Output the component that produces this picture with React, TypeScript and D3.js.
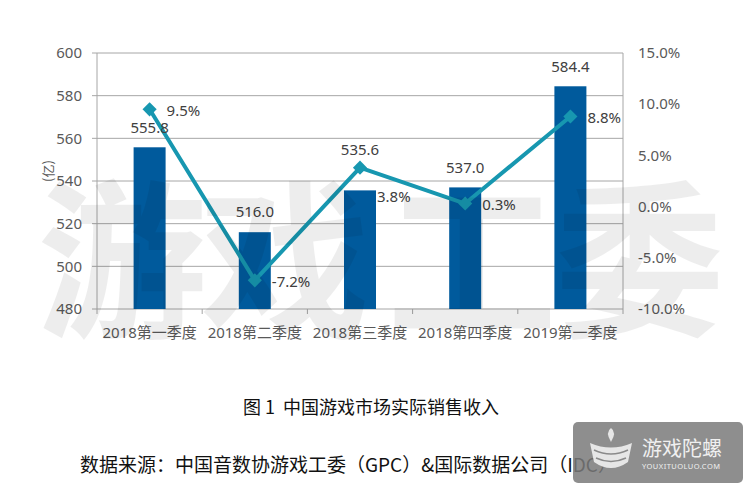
import React from "react";
import * as d3 from "d3";

const categories = ["2018第一季度", "2018第二季度", "2018第三季度", "2018第四季度", "2019第一季度"];
const revenue = [555.8, 516.0, 535.6, 537.0, 584.4];
const growth = [0.095, -0.072, 0.038, 0.003, 0.088];
const leftTicks = [480, 500, 520, 540, 560, 580, 600];
const rightTicks = [-0.1, -0.05, 0, 0.05, 0.1, 0.15];
const yLabel = "(亿)";
const caption = "图 1  中国游戏市场实际销售收入";
const source = "数据来源：中国音数协游戏工委（GPC）&国际数据公司（IDC）";
const watermark = ["游", "戏", "工", "委"];

const W = 753, H = 494;
const M = { left: 97, right: 623, top: 53, bottom: 309 };
const FONT = "'Noto Sans', 'Noto Sans CJK SC', sans-serif";
const CJK = "'Noto Sans CJK SC', 'Noto Sans', sans-serif";

const locale = d3.formatLocale({ decimal: ".", thousands: ",", grouping: [3], currency: ["", ""], minus: "-" });

export default function App() {
  const x = d3.scaleBand<string>().domain(categories).range([M.left, M.right]).paddingInner(0).paddingOuter(0);
  const bw = 32;
  const yL = d3.scaleLinear().domain([480, 600]).range([M.bottom, M.top]);
  const yR = d3.scaleLinear().domain([-0.1, 0.15]).range([M.bottom, M.top]);
  const cx = (c: string) => (x(c) as number) + x.bandwidth() / 2;
  const line = d3.line<number>().x((_, i) => cx(categories[i])).y((d) => yR(d));
  const fmtPct = locale.format(".1%");
  const gray = "#595959";
  const grid = "#a6a6a6";
  const lineColor = "#1797b0";
  const barColor = "#005a9c";

  const boundaries = d3.range(categories.length + 1).map((i) => M.left + i * x.bandwidth());

  return (
    <div style={{ position: "absolute", left: 0, top: 0 }}>
      <svg width={W} height={H} style={{ display: "block", background: "#fff" }}>
        {/* gridlines */}
        {leftTicks.slice(1).map((t) => (
          <line key={t} x1={M.left} x2={M.right} y1={yL(t)} y2={yL(t)} stroke={grid} strokeWidth={1} />
        ))}
        {/* left axis */}
        <line x1={M.left} x2={M.left} y1={M.top} y2={M.bottom} stroke={grid} />
        {leftTicks.map((t) => (
          <g key={t}>
            <line x1={M.left - 5} x2={M.left} y1={yL(t)} y2={yL(t)} stroke={grid} />
            <text x={82} y={yL(t)} dy="0.35em" textAnchor="end" fontSize={15} fill={gray} fontFamily={FONT}>
              {t}
            </text>
          </g>
        ))}
        {/* right axis */}
        <line x1={M.right} x2={M.right} y1={M.top} y2={M.bottom} stroke={grid} />
        {rightTicks.map((t) => (
          <text key={t} x={638} y={yR(t)} dy="0.35em" textAnchor="start" fontSize={15} fill={gray} fontFamily={FONT}>
            {fmtPct(t)}
          </text>
        ))}
        {/* bottom axis */}
        <line x1={M.left} x2={M.right} y1={M.bottom} y2={M.bottom} stroke={grid} />
        {boundaries.map((b, i) => (
          <line key={i} x1={b} x2={b} y1={M.bottom} y2={M.bottom + 5} stroke={grid} />
        ))}
        {categories.map((c) => (
          <text key={c} x={cx(c)} y={333} dy="0.35em" textAnchor="middle" fontSize={15} fill={gray} fontFamily={FONT}>
            {c}
          </text>
        ))}
        <text
          transform={`translate(48,${(M.top + M.bottom) / 2 - 10}) rotate(-90)`}
          textAnchor="middle"
          dy="0.35em"
          fontSize={13}
          fill={gray}
          fontFamily={CJK}
        >
          {yLabel}
        </text>
        {/* bars */}
        {revenue.map((v, i) => (
          <rect
            key={i}
            x={cx(categories[i]) - bw / 2}
            y={yL(v)}
            width={bw}
            height={M.bottom - yL(v)}
            fill={barColor}
          />
        ))}
        {/* line */}
        <path d={line(growth) || ""} fill="none" stroke={lineColor} strokeWidth={4} strokeLinejoin="round" />
        {growth.map((g, i) => (
          <rect
            key={i}
            x={-5}
            y={-5}
            width={10}
            height={10}
            fill={lineColor}
            transform={`translate(${cx(categories[i])},${yR(g)}) rotate(45)`}
          />
        ))}
        {/* value labels */}
        {revenue.map((v, i) => {
          const lift = i === 2 ? 41 : 20;
          return (
            <text
              key={i}
              x={cx(categories[i])}
              y={yL(v) - lift}
              dy="0.35em"
              textAnchor="middle"
              fontSize={15}
              fill="#404040"
              fontFamily={FONT}
            >
              {v.toFixed(1)}
            </text>
          );
        })}
        {growth.map((g, i) => {
          const yy = i === 2 ? yL(revenue[i]) + 6 : yR(g) + 1;
          return (
            <text
              key={i}
              x={cx(categories[i]) + 17}
              y={yy}
              dy="0.35em"
              textAnchor="start"
              fontSize={15}
              fill="#404040"
              fontFamily={FONT}
            >
              {fmtPct(g)}
            </text>
          );
        })}
        {/* watermark */}
        {watermark.map((ch, i) => (
          <text
            key={ch}
            x={[122, 285, 472, 640][i]}
            y={325}
            textAnchor="middle"
            fontSize={170}
            fontWeight={700}
            fill="#000"
            fillOpacity={0.07}
            fontFamily={CJK}
          >
            {ch}
          </text>
        ))}
        {/* caption */}
        <text
          x={371}
          y={408}
          dy="0.35em"
          textAnchor="middle"
          fontSize={18}
          fill="#111"
          fontFamily={CJK}
          style={{ whiteSpace: "pre" }}
        >
          {caption}
        </text>
        <text x={80} y={465} dy="0.35em" textAnchor="start" fontSize={19} fill="#111" fontFamily={CJK}>
          {source}
        </text>
        {/* logo */}
        <g>
          <rect x={573} y={422} width={170} height={61} rx={5} fill="#7a7a7a" fillOpacity={0.85} />
          <path d="M590,443 Q611,452 632,443 L628,462 Q611,474 594,462 Z" fill="#e6e6e6" />
          <path d="M594,450 Q611,458 628,450" fill="none" stroke="#8a8a8a" strokeWidth={1.5} />
          <path d="M596,458 Q611,465 626,458" fill="none" stroke="#8a8a8a" strokeWidth={1.5} />
          <path d="M611,428 Q617,432 611,442 Q605,432 611,428 Z" fill="#e6e6e6" />
          <text x={642} y={449} dy="0.35em" fontSize={20} fill="#f0f0f0" fontFamily={CJK}>
            游戏陀螺
          </text>
          <text x={642} y={466} dy="0.35em" fontSize={7.5} fill="#f0f0f0" fontFamily={FONT} textLength={78}>
            YOUXITUOLUO.COM
          </text>
        </g>
      </svg>
    </div>
  );
}
